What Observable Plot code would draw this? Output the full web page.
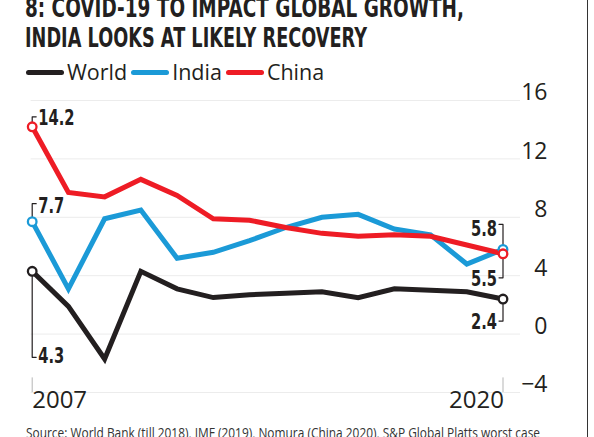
<!DOCTYPE html>
<html>
<head>
<meta charset="utf-8">
<script src="https://cdn.jsdelivr.net/npm/d3@7"></script>
<script src="https://cdn.jsdelivr.net/npm/@observablehq/plot@0.6"></script>
<style>
  html, body { margin: 0; padding: 0; background: #fff; }
  body { width: 594px; height: 437px; overflow: hidden; position: relative; font-family: "Open Sans", sans-serif; color: #231f20; }
  #title { position: absolute; left: 25px; top: -7px; font-family: "DejaVu Sans", sans-serif; font-weight: bold; font-size: 27px; line-height: 30px; white-space: nowrap; }
  #title span, #caption span { display: inline-block; transform-origin: 0 50%; }
  #legend { position: absolute; left: 26px; top: 58px; display: flex; align-items: center; font-size: 21.5px; line-height: 28px; white-space: nowrap; }
  #legend .sw { display: inline-block; width: 38px; height: 5px; border-radius: 3px; margin-right: 3px; }
  #legend .lb { margin-right: 4px; }
  #chart { position: absolute; left: 0; top: 85px; }
  #caption { position: absolute; left: 26px; top: 422px; font-size: 15px; white-space: nowrap; color: #333; }
  #border { position: absolute; left: 587px; top: 0; width: 1px; height: 437px; background: #333; }
</style>
</head>
<body>
<div id="title"><span id="t1">8: COVID-19 TO IMPACT GLOBAL GROWTH,</span><br><span id="t2">INDIA LOOKS AT LIKELY RECOVERY</span></div>
<div id="legend"></div>
<div id="chart"></div>
<div id="caption"><span id="cap">Source: World Bank (till 2018), IMF (2019), Nomura (China 2020), S&amp;P Global Platts worst case</span></div>
<div id="border"></div>
<script>
// ---- data ----
const years = [2007, 2008, 2009, 2010, 2011, 2012, 2013, 2014, 2015, 2016, 2017, 2018, 2019, 2020];
const world = [4.3, 1.9, -1.7, 4.3, 3.1, 2.5, 2.7, 2.8, 2.9, 2.5, 3.1, 3.0, 2.9, 2.4];
const india = [7.7, 3.1, 7.9, 8.5, 5.2, 5.6, 6.4, 7.3, 8.0, 8.2, 7.2, 6.8, 4.8, 5.8];
const china = [14.2, 9.7, 9.4, 10.6, 9.5, 7.9, 7.8, 7.3, 6.9, 6.7, 6.8, 6.7, 6.1, 5.5];
const seriesNames = ["World", "India", "China"];
const yTicks = [-4, 0, 4, 8, 12, 16];
const xTickLabels = [2007, 2020];

// ---- styles / layout ----
const colors = {World: "#231f20", India: "#1b9ad7", China: "#ee1c25"};
const W = 594, H = 330;
const mTop = 15, mBottom = 23, mLeft = 31.7, mRight = 91.5;
const yDomain = [-4, 16];
const gridEndPx = 520;
const condense = 0.7; // horizontal squeeze for the bold value labels
// bracket layout in pixels: dir +1 = downwards, -1 = upwards; dy = label offset from bracket end
const bracketStart = {World: {dir: 1, len: 86, dy: -1}, India: {dir: -1, len: 18, dy: 3}, China: {dir: -1, len: 10, dy: 1}};
const bracketEnd = {World: {dir: 1, len: 22, dy: 1}, India: {dir: -1, len: 25, dy: 5}, China: {dir: 1, len: 24, dy: 1}};

const seriesValues = {World: world, India: india, China: china};
const rows = seriesNames.flatMap(s => years.map((yr, i) => ({series: s, year: yr, value: seriesValues[s][i]})));

const pxPerUnitY = (H - mTop - mBottom) / (yDomain[1] - yDomain[0]);
const pxPerYear = (W - mLeft - mRight) / (years[years.length - 1] - years[0]);
const fmt = d3.format(".1f");
const first = years[0], last = years[years.length - 1];

function bracket(s, yr, v, cfg, side) {
  const yEnd = v - cfg.dir * cfg.len / pxPerUnitY;
  const yLabel = yEnd - cfg.dy / pxPerUnitY;
  const tick = 4 / pxPerYear * (side === "start" ? 1 : -1);
  return {series: s, pts: [[yr + tick, yEnd], [yr, yEnd], [yr, v]], yEnd, yLabel, label: fmt(v)};
}
const brackets = [];
for (const s of seriesNames) {
  const vals = seriesValues[s];
  brackets.push({...bracket(s, first, vals[0], bracketStart[s], "start"), side: "start", x: first});
  brackets.push({...bracket(s, last, vals[vals.length - 1], bracketEnd[s], "end"), side: "end", x: last});
}

// legend
const legend = document.getElementById("legend");
for (const s of seriesNames) {
  const sw = document.createElement("span"); sw.className = "sw"; sw.style.background = colors[s];
  const lb = document.createElement("span"); lb.className = "lb"; lb.textContent = s;
  legend.append(sw, lb);
}

const gridEndYear = first + (gridEndPx - mLeft) / pxPerYear;
const endpoints = rows.filter(d => d.year === first || d.year === last);
const labelFont = "'DejaVu Sans', sans-serif";

const chart = Plot.plot({
  width: W, height: H,
  marginTop: mTop, marginBottom: mBottom, marginLeft: mLeft, marginRight: mRight,
  style: {fontFamily: "'Open Sans', sans-serif", background: "transparent", overflow: "visible"},
  x: {domain: [first, last], axis: null},
  y: {domain: yDomain, axis: null},
  marks: [
    Plot.ruleY(yTicks, {y: d => d, x1: first - 0.03, x2: gridEndYear, stroke: "#ececec", strokeWidth: 1}),
    Plot.ruleX(xTickLabels, {x: d => d, y1: yDomain[0], y2: yDomain[0] + 1, stroke: "#b5b5b5", strokeWidth: 1}),
    Plot.text(yTicks, {x: last, y: d => d, text: d => d3.format("")(d).replace("-", "\u2212"), textAnchor: "end", dx: 44.5, dy: -7.5, fontSize: 23, fill: "#231f20"}),
    Plot.text([xTickLabels[0]], {x: d => d, frameAnchor: "bottom", text: d => String(d), textAnchor: "start", dy: 15, fontSize: 24, fill: "#231f20"}),
    Plot.text([xTickLabels[1]], {x: d => d, frameAnchor: "bottom", text: d => String(d), textAnchor: "end", dx: 1, dy: 15, fontSize: 24, fill: "#231f20"}),
    ...brackets.map(b => Plot.line(b.pts, {x: d => d[0], y: d => d[1], stroke: "#231f20", strokeWidth: 1.2})),
    Plot.line(rows, {x: "year", y: "value", z: "series", stroke: d => colors[d.series], strokeWidth: 5, strokeLinejoin: "miter", strokeMiterlimit: 4}),
    Plot.dot(endpoints, {x: "year", y: "value", r: 4.3, fill: "white", stroke: d => colors[d.series], strokeWidth: 2.3}),
    Plot.text(brackets.filter(b => b.side === "start"), {x: "x", y: "yLabel", text: "label", textAnchor: "start", dx: 6, fontSize: 21, fontWeight: "bold", fontFamily: labelFont, fill: "#231f20"}),
    Plot.text(brackets.filter(b => b.side === "end"), {x: "x", y: "yLabel", text: "label", textAnchor: "end", dx: -6, fontSize: 21, fontWeight: "bold", fontFamily: labelFont, fill: "#231f20"})
  ]
});
document.getElementById("chart").append(chart);

// condense the bold value labels horizontally
const labelSet = new Set(brackets.map(b => b.label));
chart.querySelectorAll("text").forEach(t => {
  if (labelSet.has(t.textContent)) {
    const w = t.getComputedTextLength();
    t.setAttribute("textLength", (w * condense).toFixed(1));
    t.setAttribute("lengthAdjust", "spacingAndGlyphs");
  }
});

// fit title lines and caption to the reference widths
function fitWidth(id, target) {
  const el = document.getElementById(id);
  const w = el.getBoundingClientRect().width;
  el.style.transform = `scaleX(${target / w})`;
}
fitWidth("t1", 439);
fitWidth("t2", 342);
fitWidth("cap", 514);
</script>
</body>
</html>
